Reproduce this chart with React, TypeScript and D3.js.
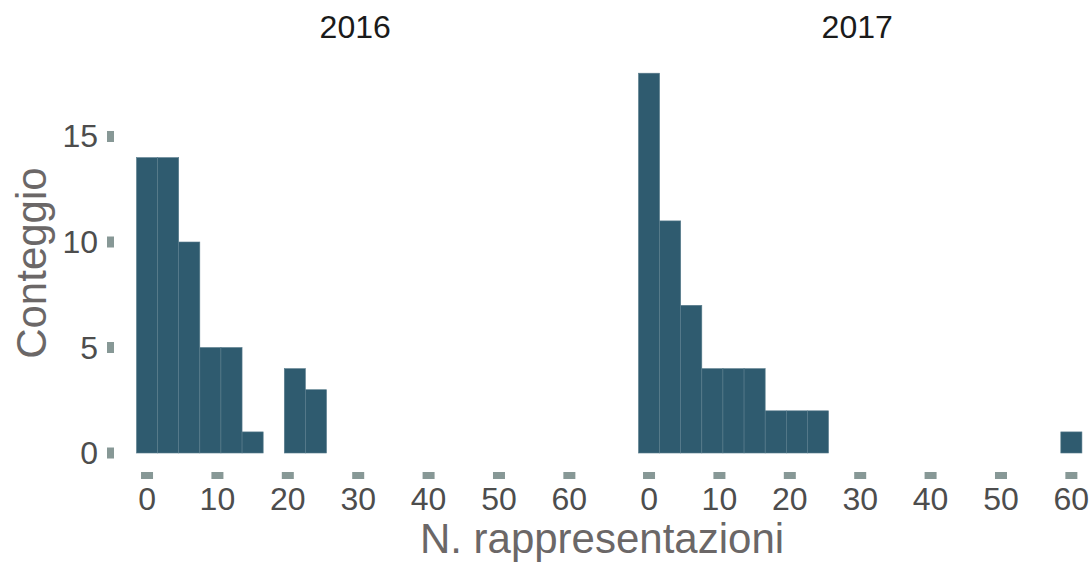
import React from "react";
import * as d3 from "d3";

const panels = ["2016", "2017"];
const binCenters2016 = [0, 3, 6, 9, 12, 15, 21, 24];
const counts2016 = [14, 14, 10, 5, 5, 1, 4, 3];
const binCenters2017 = [0, 3, 6, 9, 12, 15, 18, 21, 24, 60];
const counts2017 = [18, 11, 7, 4, 4, 4, 2, 2, 2, 1];
const binWidth = 3;
const xTicks = [0, 10, 20, 30, 40, 50, 60];
const yTicks = [0, 5, 10, 15];
const xTitle = "N. rappresentazioni";
const yTitle = "Conteggio";

const W = 1091;
const H = 563;
const FONT = "'Liberation Sans', Arial, Helvetica, sans-serif";
const BAR_FILL = "#2f5b6f";
const BAR_STROKE = "#5a7d8d";
const TICK_COLOR = "#879896";

export default function App() {
  const series = [
    { name: panels[0], centers: binCenters2016, counts: counts2016 },
    { name: panels[1], centers: binCenters2017, counts: counts2017 },
  ];
  const allCenters = [...binCenters2016, ...binCenters2017];
  const allCounts = [...counts2016, ...counts2017];
  const xMin = d3.min(allCenters)! - binWidth / 2;
  const xMax = d3.max(allCenters)! + binWidth / 2;
  const xPad = (xMax - xMin) * 0.05;
  const yMax = d3.max(allCounts)!;
  const yPad = yMax * 0.05;

  const panelTop = 54.2;
  const panelBottom = 472;
  const panelW = 487.8;
  const panelLefts = [114.3, 616.3];

  const y = d3.scaleLinear().domain([-yPad, yMax + yPad]).range([panelBottom, panelTop]);

  return (
    <svg
      width={W}
      height={H}
      style={{ position: "absolute", left: 0, top: 0, background: "#fff" }}
      fontFamily={FONT}
    >
      {/* y axis */}
      {yTicks.map((t) => (
        <g key={"yt" + t}>
          <rect x={107} y={y(t) - 5.5} width={7} height={11} fill={TICK_COLOR} />
          <text
            x={98}
            y={y(t)}
            textAnchor="end"
            dominantBaseline="central"
            fontSize={32}
            fill="#4d4d4d"
          >
            {t}
          </text>
        </g>
      ))}
      <text
        transform={`translate(46, ${(panelTop + panelBottom) / 2}) rotate(-90)`}
        textAnchor="middle"
        fontSize={42}
        fill="#6b6767"
      >
        {yTitle}
      </text>

      {series.map((s, i) => {
        const left = panelLefts[i];
        const x = d3
          .scaleLinear()
          .domain([xMin - xPad, xMax + xPad])
          .range([left, left + panelW]);
        return (
          <g key={s.name}>
            <text
              x={left + panelW / 2 - 3}
              y={38}
              textAnchor="middle"
              fontSize={32}
              fill="#1a1a1a"
            >
              {s.name}
            </text>
            {s.centers.map((c, j) => (
              <rect
                key={j}
                x={x(c - binWidth / 2)}
                y={y(s.counts[j])}
                width={x(c + binWidth / 2) - x(c - binWidth / 2)}
                height={y(0) - y(s.counts[j])}
                fill={BAR_FILL}
                stroke={BAR_STROKE}
                strokeWidth={0.6}
              />
            ))}
            {xTicks.map((t) => (
              <g key={"xt" + t}>
                <rect x={x(t) - 6} y={panelBottom} width={12} height={7} fill={TICK_COLOR} />
                <text
                  x={x(t)}
                  y={510}
                  textAnchor="middle"
                  fontSize={32}
                  fill="#4d4d4d"
                >
                  {t}
                </text>
              </g>
            ))}
          </g>
        );
      })}

      <text x={602} y={553} textAnchor="middle" fontSize={42} fill="#6b6767">
        {xTitle}
      </text>
    </svg>
  );
}
